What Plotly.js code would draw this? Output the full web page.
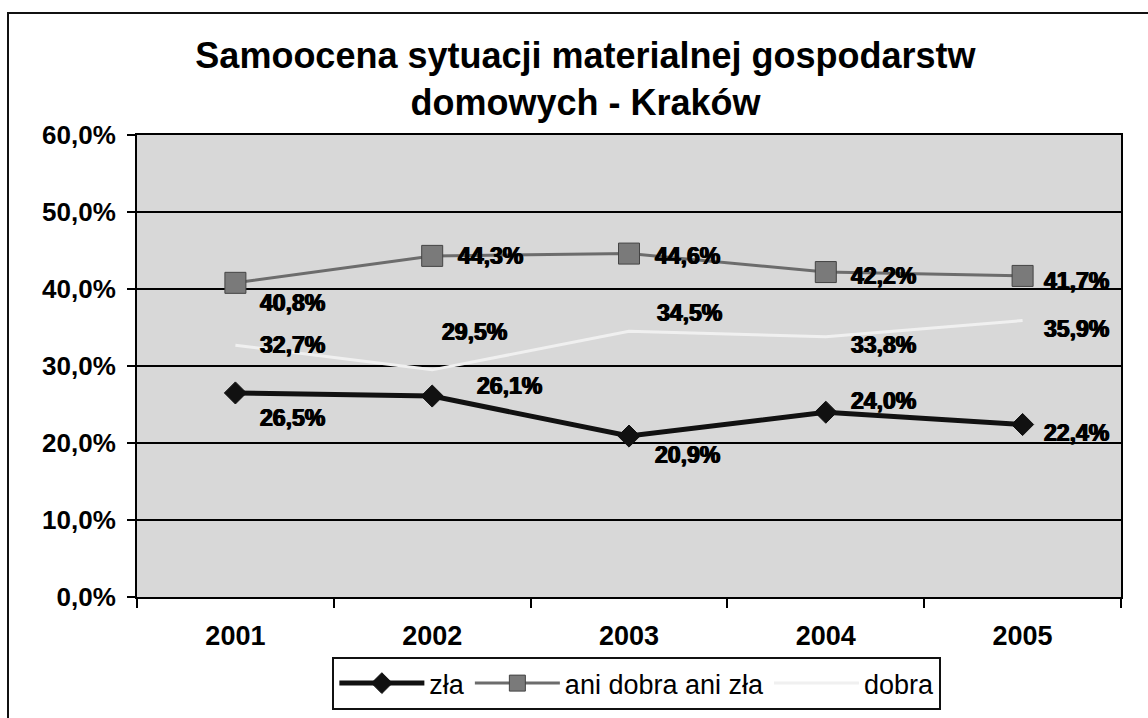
<!DOCTYPE html>
<html>
<head>
<meta charset="utf-8">
<script src="https://cdn.plot.ly/plotly-3.0.1.min.js"></script>
<style>
  html, body { margin:0; padding:0; background:#fff; width:1148px; height:718px; overflow:hidden; }
  #frame { position:absolute; left:7px; top:12px; width:1160px; height:720px; border-left:2px solid #111; border-top:2px solid #111; }
  #chart { position:absolute; left:0; top:0; width:1148px; height:718px; }
</style>
</head>
<body>
<div id="frame"></div>
<div id="chart"></div>
<script>
// ---- data ----
const years = ['2001', '2002', '2003', '2004', '2005'];
const zla = [26.5, 26.1, 20.9, 24.0, 22.4];
const ani = [40.8, 44.3, 44.6, 42.2, 41.7];
const dobra = [32.7, 29.5, 34.5, 33.8, 35.9];
const seriesNames = ['zła', 'ani dobra ani zła', 'dobra'];
const chartTitle = 'Samoocena sytuacji materialnej gospodarstw<br>domowych - Kraków';

// ---- label placement (pixel offsets from each point) ----
const zlaOff = [[23, -25], [43, 10], [24, -19], [23, 11], [19, -8]];
const aniOff = [[23, -20], [24, 0], [24, -2], [23, -4], [19, -5]];
const dobraOff = [[23, 0], [8, 38], [26, 18], [23, -8], [19, -8]];

const FONT = '"Liberation Sans", Arial, sans-serif';
const fmt = v => v.toFixed(1).replace('.', ',') + '%';

const traces = [
  {
    x: years, y: zla, name: seriesNames[0], type: 'scatter', mode: 'lines+markers',
    line: {color: '#111', width: 5},
    marker: {symbol: 'diamond', size: 17, color: '#111', line: {color: '#111', width: 1}}
  },
  {
    x: years, y: ani, name: seriesNames[1], type: 'scatter', mode: 'lines+markers',
    line: {color: '#6c6c6c', width: 3},
    marker: {symbol: 'square', size: 21, color: '#7a7a7a', line: {color: '#444', width: 1}}
  },
  {
    x: years, y: dobra, name: seriesNames[2], type: 'scatter', mode: 'lines',
    line: {color: '#f0f0f0', width: 3}
  }
];

const annotations = [];
function addLabels(vals, offs) {
  vals.forEach((v, i) => {
    annotations.push({
      x: i, y: v, xref: 'x', yref: 'y', text: fmt(v), showarrow: false,
      xanchor: 'left', yanchor: 'middle', xshift: offs[i][0], yshift: offs[i][1],
      font: {family: FONT, size: 23, color: '#000', weight: 700,
             shadow: '0.7px 0 0 #000, -0.7px 0 0 #000'}
    });
  });
}
addLabels(zla, zlaOff);
addLabels(ani, aniOff);
addLabels(dobra, dobraOff);

const layout = {
  width: 1148, height: 718,
  margin: {l: 137, r: 27, t: 135, b: 121, autoexpand: false},
  paper_bgcolor: 'rgba(0,0,0,0)',
  plot_bgcolor: '#d8d8d8',
  separators: ',.',
  showlegend: true,
  title: {
    text: chartTitle,
    x: 0.51, xanchor: 'center', xref: 'container',
    y: 0.905, yanchor: 'top', yref: 'container',
    font: {family: FONT, size: 36, color: '#000', weight: 700}
  },
  xaxis: {
    type: 'category', categoryorder: 'array', categoryarray: years,
    range: [-0.5, years.length - 0.5], autorange: false,
    showline: true, linecolor: '#000', linewidth: 2, mirror: true,
    ticks: 'outside', tickson: 'boundaries', ticklen: 9, tickwidth: 2, tickcolor: '#000',
    showgrid: false, tickangle: 0,
    ticklabelstandoff: 14,
    tickfont: {family: FONT, size: 27, color: '#000', weight: 700}
  },
  yaxis: {
    range: [0, 60], autorange: false, dtick: 10, tick0: 0,
    tickformat: '.1f', ticksuffix: '%',
    showline: true, linecolor: '#000', linewidth: 2, mirror: true,
    ticks: 'outside', ticklen: 8, tickwidth: 2, tickcolor: '#000',
    showgrid: true, gridcolor: '#000', gridwidth: 2,
    zeroline: false,
    ticklabelstandoff: 6,
    tickfont: {family: FONT, size: 26, color: '#000', weight: 700}
  },
  legend: {
    orientation: 'h', x: 0.508, xanchor: 'center', y: -0.13, yanchor: 'top',
    bgcolor: '#fff', bordercolor: '#111', borderwidth: 2,
    itemwidth: 85,
    font: {family: FONT, size: 27, color: '#000'}
  },
  annotations: annotations
};

Plotly.newPlot('chart', traces, layout, {displayModeBar: false, staticPlot: true});
</script>
</body>
</html>
